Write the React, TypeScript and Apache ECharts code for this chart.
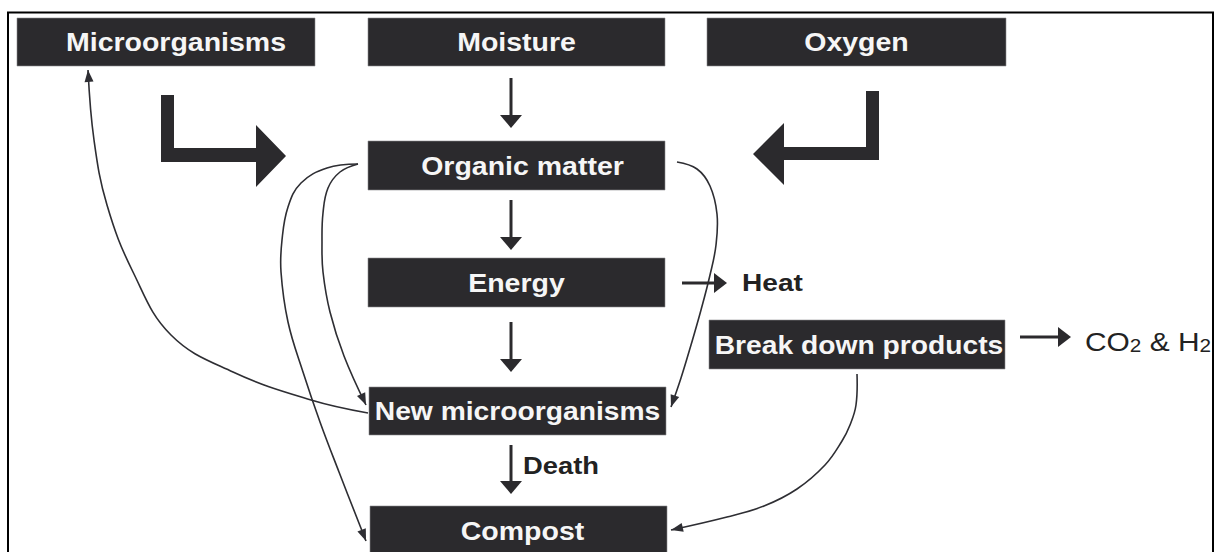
import React, { useEffect, useRef } from "react";
import * as echarts from "echarts";

// ---- Diagram content (data) ----
const nodeNames = [
  "Microorganisms",
  "Moisture",
  "Oxygen",
  "Organic matter",
  "Energy",
  "Break down products",
  "New microorganisms",
  "Compost",
];
// straight vertical flows in the central column
const straightLinks: [string, string][] = [
  ["Moisture", "Organic matter"],
  ["Organic matter", "Energy"],
  ["Energy", "New microorganisms"],
  ["New microorganisms", "Compost"],
];
const straightLinkLabels = ["", "", "", "Death"];
// block arrows feeding organic matter
const blockInputs = ["Microorganisms", "Oxygen"];
// curved flows
const curvedLinks: [string, string][] = [
  ["New microorganisms", "Microorganisms"],
  ["Organic matter", "Compost"],
  ["Organic matter", "New microorganisms"],
  ["Organic matter", "New microorganisms"],
  ["Break down products", "Compost"],
];
// products leaving the system
const outputs: [string, string][] = [
  ["Energy", "Heat"],
  ["Break down products", "CO2 & H2"],
];

// ---- Layout (positions / sizes, not data) ----
const BOX: Record<string, [number, number, number, number, number]> = {
  // x, y, w, h, text dx
  Microorganisms: [17, 18, 298, 48, 10],
  Moisture: [368, 18, 297, 48, 0],
  Oxygen: [707, 18, 299, 48, 0],
  "Organic matter": [368, 141, 297, 49, 6],
  Energy: [368, 258, 297, 49, 0],
  "Break down products": [709, 320, 296, 49, 2],
  "New microorganisms": [369, 387, 297, 48, 0],
  Compost: [370, 506, 297, 60, 4],
};
const STRAIGHT_GEOM: [number, number, number][] = [
  [511, 78, 128],
  [511, 200, 250],
  [511, 322, 372],
  [511, 445, 494],
];
const CURVE_GEOM: [number, number][][] = [
  [[368, 413], [311, 400], [233, 372], [171, 335], [133, 272], [107, 205], [94, 140], [88, 70]],
  [[358, 164], [327, 168], [301, 183], [288, 207], [282, 240], [281, 272], [288, 322], [303, 372], [320, 422], [339, 472], [366, 541]],
  [[358, 164], [340, 172], [328, 188], [323, 213], [322, 242], [323, 272], [330, 312], [344, 356], [366, 405]],
  [[677, 162], [697, 169], [710, 186], [717, 214], [716, 245], [710, 275], [701, 310], [691, 345], [681, 378], [671, 407]],
  [[857, 374], [856, 405], [850, 425], [842, 441], [825, 465], [797, 489], [764, 506], [727, 517], [671, 530]],
];
const OUTPUT_GEOM: [number, number, number, number][] = [
  // arrow x0, x1, y, text x
  [682, 727, 283, 742],
  [1020, 1071, 337, 1085],
];

const DARK = "#2b2a2d";
const LINE = "#2e2e33";
const FONT = "'Liberation Sans', Arial, Helvetica, sans-serif";

function head(tip: [number, number], from: [number, number], len: number, half: number) {
  const dx = tip[0] - from[0];
  const dy = tip[1] - from[1];
  const d = Math.hypot(dx, dy) || 1;
  const ux = dx / d;
  const uy = dy / d;
  const bx = tip[0] - ux * len;
  const by = tip[1] - uy * len;
  const nx = -uy;
  const ny = ux;
  return [
    [tip[0], tip[1]],
    [bx + nx * half, by + ny * half],
    [bx - nx * half, by - ny * half],
  ];
}

function buildGraphics() {
  const els: any[] = [];
  // outer frame
  els.push({
    type: "rect",
    shape: { x: 8, y: 12.5, width: 1205, height: 600 },
    style: { fill: "#fff", stroke: "#000", lineWidth: 2 },
  });

  // block L arrows
  const leftL = [
    [161, 95], [174, 95], [174, 148], [256, 148], [256, 125], [286, 156],
    [256, 187], [256, 162], [161, 162],
  ];
  const rightL = [
    [879, 91], [866, 91], [866, 147], [784, 147], [784, 123], [753, 154],
    [784, 185], [784, 160], [879, 160],
  ];
  blockInputs.forEach((name, i) => {
    els.push({
      type: "polygon",
      name: name + " input",
      shape: { points: i === 0 ? leftL : rightL },
      style: { fill: DARK },
    });
  });

  // curved links
  curvedLinks.forEach((lk, i) => {
    const pts = CURVE_GEOM[i];
    els.push({
      type: "polyline",
      name: lk[0] + "->" + lk[1],
      shape: { points: pts, smooth: 0.4 },
      style: { stroke: LINE, lineWidth: 1.6, fill: null },
    });
    const n = pts.length;
    els.push({
      type: "polygon",
      shape: { points: head(pts[n - 1], pts[n - 2], 12, 4.5) },
      style: { fill: LINE },
    });
  });

  // straight links
  straightLinks.forEach((lk, i) => {
    const [x, y0, y1] = STRAIGHT_GEOM[i];
    els.push({
      type: "line",
      shape: { x1: x, y1: y0, x2: x, y2: y1 - 10 },
      style: { stroke: DARK, lineWidth: 3 },
    });
    els.push({
      type: "polygon",
      shape: { points: head([x, y1], [x, y0], 13, 11) },
      style: { fill: DARK },
    });
    if (straightLinkLabels[i]) {
      els.push({
        type: "text",
        x: x + 12,
        y: (y0 + y1) / 2 - 4,
        scaleX: 1.14,
        style: {
          text: straightLinkLabels[i],
          fill: "#222",
          font: `bold 24px ${FONT}`,
          align: "left",
          verticalAlign: "middle",
        },
      });
    }
  });

  // outputs
  outputs.forEach((o, i) => {
    const [x0, x1, y, tx] = OUTPUT_GEOM[i];
    els.push({
      type: "line",
      shape: { x1: x0, y1: y, x2: x1 - 10, y2: y },
      style: { stroke: DARK, lineWidth: 3 },
    });
    els.push({
      type: "polygon",
      shape: { points: head([x1, y], [x0, y], 13, 10) },
      style: { fill: DARK },
    });
    if (o[1] === "Heat") {
      els.push({
        type: "text",
        x: tx,
        y: y,
        scaleX: 1.17,
        style: {
          text: o[1],
          fill: "#222",
          font: `bold 24px ${FONT}`,
          align: "left",
          verticalAlign: "middle",
        },
      });
    } else {
      const parts = o[1].split("2");
      els.push({
        type: "text",
        x: tx,
        y: y + 2,
        scaleX: 1.15,
        style: {
          text: `{a|${parts[0]}}{b|2}{a|${parts[1]}}{b|2}`,
          align: "left",
          verticalAlign: "middle",
          rich: {
            a: { fontSize: 26, fontFamily: FONT, fill: "#222", verticalAlign: "bottom", lineHeight: 32 },
            b: { fontSize: 18, fontFamily: FONT, fill: "#222", verticalAlign: "bottom", lineHeight: 32 },
          },
        },
      });
    }
  });

  // boxes
  nodeNames.forEach((name) => {
    const [x, y, w, h, dx] = BOX[name];
    els.push({
      type: "rect",
      shape: { x, y, width: w, height: h },
      style: { fill: DARK, stroke: "#8a8a8e", lineWidth: 0.6 },
    });
    els.push({
      type: "text",
      x: x + w / 2 + dx,
      y: name === "Compost" ? y + 26 : y + h / 2 + 1,
      scaleX: name === "New microorganisms" || name === "Break down products" ? 1.13 : 1.14,
      style: {
        text: name,
        fill: "#f6f6f6",
        font: `bold 25px ${FONT}`,
        align: "center",
        verticalAlign: "middle",
      },
    });
  });
  return els;
}

export default function App() {
  const ref = useRef<HTMLDivElement>(null);
  useEffect(() => {
    if (!ref.current) return;
    const chart = echarts.init(ref.current, undefined, { renderer: "svg" });
    chart.setOption({
      animation: false,
      backgroundColor: "#ffffff",
      graphic: { elements: buildGraphics() },
    });
    return () => chart.dispose();
  }, []);
  return (
    <div
      ref={ref}
      style={{ position: "fixed", left: 0, top: 0, width: 1221, height: 552, background: "#fff" }}
    />
  );
}
